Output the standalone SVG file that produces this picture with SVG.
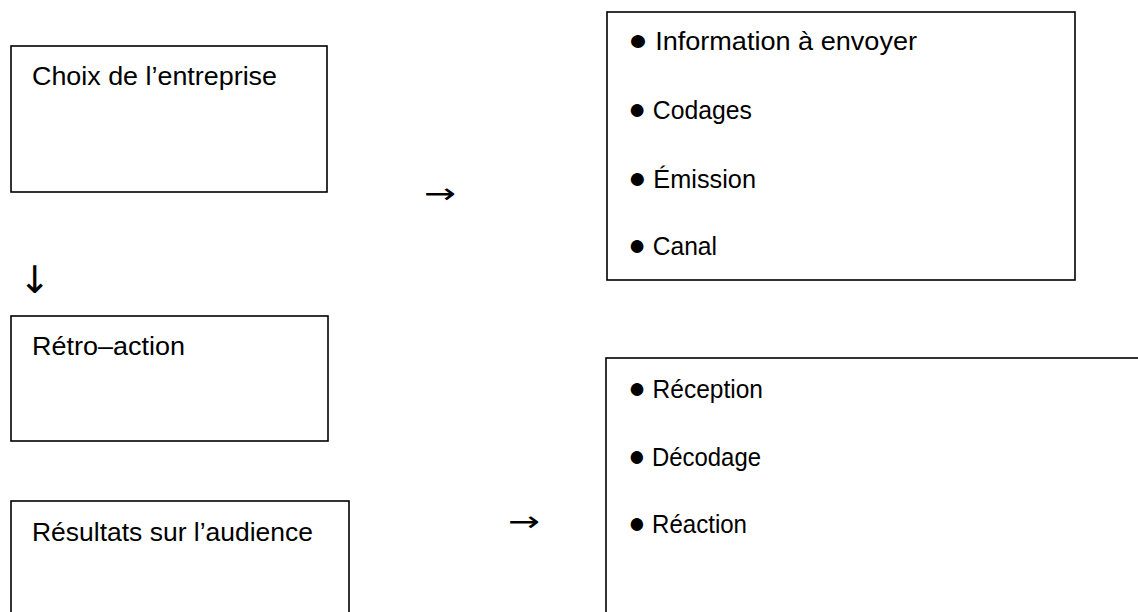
<svg xmlns="http://www.w3.org/2000/svg" width="1138" height="612" viewBox="0 0 1138 612">
<style>
.box{fill:#fff;stroke:#000;stroke-width:1.6}
.t{font-family:"Liberation Sans","DejaVu Sans",sans-serif;font-size:25px;fill:#000}
.b{font-size:30px}
.arr{font-family:"DejaVu Sans","Liberation Sans",sans-serif;font-size:28px;fill:#000}
.down{font-size:38px}
</style>
<rect width="1138" height="612" fill="#fff"/>
<g id="choix">
<rect class="box" x="11" y="46" width="316" height="146"/>
<text class="t" x="32" y="85" textLength="245" lengthAdjust="spacingAndGlyphs">Choix de l’entreprise</text>
</g>
<g id="retro">
<rect class="box" x="11" y="316" width="317" height="125"/>
<text class="t" x="32" y="355" textLength="153" lengthAdjust="spacingAndGlyphs">Rétro–action</text>
</g>
<g id="resultats">
<rect class="box" x="11" y="501" width="338" height="200"/>
<text class="t" x="32" y="541" textLength="281" lengthAdjust="spacingAndGlyphs">Résultats sur l’audience</text>
</g>
<g id="emission">
<rect class="box" x="607" y="12" width="468" height="268"/>
<text class="t" x="628" y="50" textLength="289" lengthAdjust="spacingAndGlyphs"><tspan class="b">●</tspan> Information à envoyer</text>
<text class="t" x="628" y="119" textLength="124" lengthAdjust="spacingAndGlyphs"><tspan class="b">●</tspan> Codages</text>
<text class="t" x="628" y="188" textLength="128" lengthAdjust="spacingAndGlyphs"><tspan class="b">●</tspan> Émission</text>
<text class="t" x="628" y="255" textLength="89" lengthAdjust="spacingAndGlyphs"><tspan class="b">●</tspan> Canal</text>
</g>
<g id="reception">
<rect class="box" x="606" y="358" width="620" height="320"/>
<text class="t" x="628" y="398" textLength="135" lengthAdjust="spacingAndGlyphs"><tspan class="b">●</tspan> Réception</text>
<text class="t" x="628" y="466" textLength="133" lengthAdjust="spacingAndGlyphs"><tspan class="b">●</tspan> Décodage</text>
<text class="t" x="628" y="533" textLength="119" lengthAdjust="spacingAndGlyphs"><tspan class="b">●</tspan> Réaction</text>
</g>
<g id="connectors">
<text class="arr" x="424" y="203" textLength="32" lengthAdjust="spacingAndGlyphs">→</text>
<text class="arr" x="508" y="531" textLength="32" lengthAdjust="spacingAndGlyphs">→</text>
<text class="arr down" x="19" y="293">↓</text>
</g>
</svg>
